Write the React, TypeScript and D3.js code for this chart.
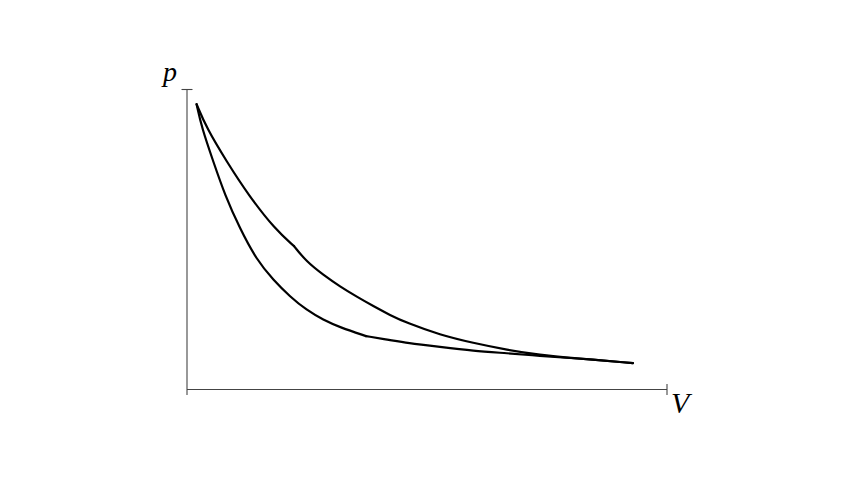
import { useEffect, useRef } from 'react';
import * as d3 from 'd3';

// upper curve (two branches meeting at a kink)
const upperA_V = [0.2, 0.41, 0.83, 1.28, 1.84, 2.23];
const upperA_p = [9.51, 8.71, 7.59, 6.48, 5.33, 4.78];
const upperB_V = [2.23, 2.49, 2.84, 3.19, 3.54, 3.88, 4.23, 4.58, 5.27, 5.96, 6.67, 7.35, 8.04, 9.29];
const upperB_p = [4.78, 4.26, 3.82, 3.43, 3.09, 2.78, 2.48, 2.22, 1.82, 1.55, 1.32, 1.15, 1.05, 0.88];

// lower curve
const lowerA_V = [0.2, 0.31, 0.55, 0.79, 1.1, 1.45, 1.8, 2.15, 2.49, 2.84, 3.19, 3.73];
const lowerA_p = [9.51, 8.71, 7.59, 6.48, 5.37, 4.32, 3.65, 3.09, 2.65, 2.32, 2.07, 1.78];
const lowerB_V = [3.73, 4.23, 4.58, 5.27, 5.96, 6.67, 7.35, 8.04, 9.29];
const lowerB_p = [1.78, 1.65, 1.55, 1.42, 1.29, 1.21, 1.12, 1.05, 0.88];

const vDomain = [0, 10];
const pDomain = [0, 10];

export default function App() {
  const ref = useRef<SVGSVGElement>(null);

  useEffect(() => {
    const el = ref.current;
    if (!el) return;
    const svg = d3.select(el);
    svg.selectAll('*').remove();

    const x = d3.scaleLinear().domain(vDomain).range([187, 667]);
    const y = d3.scaleLinear().domain(pDomain).range([389.5, 89.5]);

    const axisColor = '#444';
    const g = svg.append('g');

    // axes with end ticks
    const axisLine = (x1: number, y1: number, x2: number, y2: number) =>
      g.append('line')
        .attr('x1', x1).attr('y1', y1)
        .attr('x2', x2).attr('y2', y2)
        .attr('stroke', axisColor)
        .attr('stroke-width', 1.1);

    axisLine(x(0), y(10), x(0), y(0) + 5.5);
    axisLine(x(0), y(0), x(10), y(0));
    axisLine(x(0) - 5.5, y(10), x(0) + 5.5, y(10));
    axisLine(x(10), y(0) - 5.5, x(10), y(0) + 5.5);

    // basis spline smooths out reading noise, still hits the end points
    const line = d3
      .line<[number, number]>()
      .x((d) => x(d[0]))
      .y((d) => y(d[1]))
      .curve(d3.curveBasis);

    const segments = [
      [upperA_V, upperA_p],
      [upperB_V, upperB_p],
      [lowerA_V, lowerA_p],
      [lowerB_V, lowerB_p],
    ];
    segments.forEach(([vs, ps]) => {
      const pts = vs.map((v, i) => [v, ps[i]] as [number, number]);
      g.append('path')
        .attr('d', line(pts))
        .attr('fill', 'none')
        .attr('stroke', '#000')
        .attr('stroke-width', 2.2)
        .attr('stroke-linejoin', 'round')
        .attr('stroke-linecap', 'round');
    });

    // labels
    g.append('text')
      .attr('x', 163)
      .attr('y', 81)
      .attr('font-family', "'Liberation Serif', serif")
      .attr('font-style', 'italic')
      .attr('font-size', 28)
      .attr('fill', '#000')
      .text('p');
    g.append('text')
      .attr('x', 671)
      .attr('y', 413)
      .attr('font-family', "'Liberation Serif', serif")
      .attr('font-style', 'italic')
      .attr('font-size', 30)
      .attr('fill', '#000')
      .text('V');
  }, []);

  return (
    <svg
      ref={ref}
      width={854}
      height={480}
      style={{ position: 'absolute', left: 0, top: 0, background: '#fff' }}
    />
  );
}
